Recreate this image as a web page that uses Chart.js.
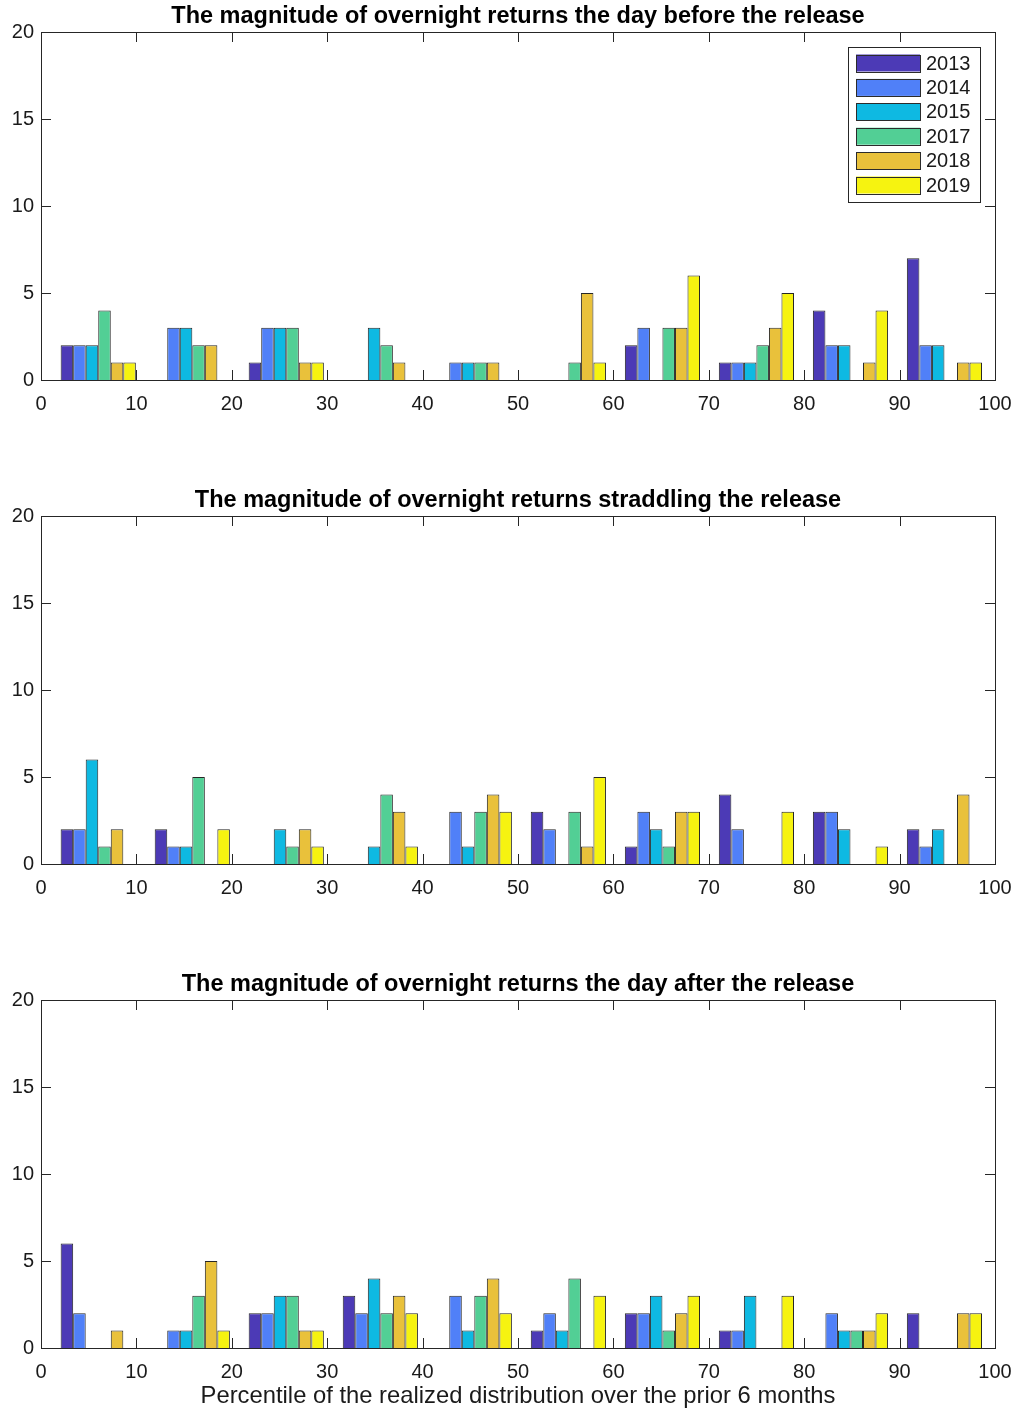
<!DOCTYPE html>
<html>
<head>
<meta charset="utf-8">
<script src="https://cdn.jsdelivr.net/npm/chart.js@4.4.1/dist/chart.umd.min.js"></script>
<style>
  body { margin: 0; background: #fff; width: 1018px; height: 1412px; position: relative; overflow: hidden; }
  .panel { position: absolute; left: 0; width: 1018px; }
</style>
</head>
<body>
<div class="panel" style="top:0px;height:440px"><canvas id="c1"></canvas></div>
<div class="panel" style="top:484px;height:440px"><canvas id="c2"></canvas></div>
<div class="panel" style="top:968px;height:444px"><canvas id="c3"></canvas></div>
<script>
// bin centres of the percentile histogram
const binCenters = [6.0, 15.86, 25.71, 35.57, 45.42, 55.28, 65.14, 74.99, 84.85, 94.7];
const years = ['2013', '2014', '2015', '2017', '2018', '2019'];
const yearColors = ['#4c3ab6', '#5080f8', '#0eb9e2', '#52cf95', '#e9c13b', '#f6f310'];

const titleBefore = 'The magnitude of overnight returns the day before the release';
const titleStraddle = 'The magnitude of overnight returns straddling the release';
const titleAfter = 'The magnitude of overnight returns the day after the release';
const xAxisTitle = 'Percentile of the realized distribution over the prior 6 months';

// counts per bin, one array per year
const before2013 = [2, 0, 1, 0, 0, 0, 2, 1, 4, 7];
const before2014 = [2, 3, 3, 0, 1, 0, 3, 1, 2, 2];
const before2015 = [2, 3, 3, 3, 1, 0, 0, 1, 2, 2];
const before2017 = [4, 2, 3, 2, 1, 1, 3, 2, 0, 0];
const before2018 = [1, 2, 1, 1, 1, 5, 3, 3, 1, 1];
const before2019 = [1, 0, 1, 0, 0, 1, 6, 5, 4, 1];

const straddle2013 = [2, 2, 0, 0, 0, 3, 1, 4, 3, 2];
const straddle2014 = [2, 1, 0, 0, 3, 2, 3, 2, 3, 1];
const straddle2015 = [6, 1, 2, 1, 1, 0, 2, 0, 2, 2];
const straddle2017 = [1, 5, 1, 4, 3, 3, 1, 0, 0, 0];
const straddle2018 = [2, 0, 2, 3, 4, 1, 3, 0, 0, 4];
const straddle2019 = [0, 2, 1, 1, 3, 5, 3, 3, 1, 0];

const after2013 = [6, 0, 2, 3, 0, 1, 2, 1, 0, 2];
const after2014 = [2, 1, 2, 2, 3, 2, 2, 1, 2, 0];
const after2015 = [0, 1, 3, 4, 1, 1, 3, 3, 1, 0];
const after2017 = [0, 3, 3, 2, 3, 4, 1, 0, 1, 0];
const after2018 = [1, 5, 1, 3, 4, 0, 2, 0, 1, 2];
const after2019 = [0, 1, 1, 2, 2, 3, 3, 3, 2, 2];

const xTicks = [0, 10, 20, 30, 40, 50, 60, 70, 80, 90, 100];
const yTicks = [0, 5, 10, 15, 20];

const FONT = '"Liberation Sans", Arial, Helvetica, sans-serif';

function makeDatasets(series) {
    return series.map((vals, i) => ({
        label: years[i],
        data: vals.map((v, j) => ({ x: binCenters[j], y: v })),
        backgroundColor: yearColors[i],
        borderColor: '#262626',
        borderWidth: 1,
        categoryPercentage: 0.8,
        barPercentage: 1.0
    }));
}

// matlab style box with inward ticks on all four sides
const boxPlugin = {
    id: 'boxTicks',
    afterDatasetsDraw(chart) {
        const { ctx, chartArea: a, scales } = chart;
        ctx.save();
        ctx.strokeStyle = '#262626';
        ctx.lineWidth = 1;
        ctx.beginPath();
        xTicks.forEach(t => {
            const px = Math.round(scales.x.getPixelForValue(t)) + 0.5;
            ctx.moveTo(px, a.bottom); ctx.lineTo(px, a.bottom - 10);
            ctx.moveTo(px, a.top); ctx.lineTo(px, a.top + 10);
        });
        yTicks.forEach(t => {
            const py = Math.round(scales.y.getPixelForValue(t)) + 0.5;
            ctx.moveTo(a.left, py); ctx.lineTo(a.left + 10, py);
            ctx.moveTo(a.right, py); ctx.lineTo(a.right - 10, py);
        });
        ctx.stroke();
        ctx.strokeRect(Math.round(a.left) + 0.5, Math.round(a.top) + 0.5,
            Math.round(a.right - a.left), Math.round(a.bottom - a.top));
        ctx.restore();
    }
};

// legend drawn inside the plot, top right corner
const insideLegend = {
    id: 'insideLegend',
    afterDraw(chart, args, opts) {
        if (!opts.show) return;
        const { ctx, chartArea: a } = chart;
        const w = 132, h = 155;
        const left = a.right - 15 - w, top = a.top + 15;
        ctx.save();
        ctx.fillStyle = '#fff';
        ctx.fillRect(left, top, w, h);
        ctx.strokeStyle = '#262626';
        ctx.lineWidth = 1;
        ctx.strokeRect(Math.round(left) + 0.5, Math.round(top) + 0.5, w, h);
        ctx.font = '20px ' + FONT;
        ctx.textBaseline = 'middle';
        chart.data.datasets.forEach((ds, i) => {
            const cy = top + 16 + i * 24.4;
            ctx.fillStyle = ds.backgroundColor;
            ctx.fillRect(left + 8, cy - 8.5, 64, 17);
            ctx.strokeStyle = '#2b2b2b';
            ctx.strokeRect(Math.round(left + 8) + 0.5, Math.round(cy - 8.5) + 0.5, 64, 17);
            ctx.fillStyle = '#1a1a1a';
            ctx.fillText(ds.label, left + 78, cy + 1);
        });
        ctx.restore();
    }
};

function makeChart(id, title, series, opts) {
    const xScale = {
        type: 'linear',
        min: 0, max: 100,
        offset: false,
        grid: { display: false, drawTicks: false, offset: false },
        border: { display: false },
        ticks: {
            stepSize: 10, padding: 12, color: '#1a1a1a', maxRotation: 0,
            font: { family: FONT, size: 20 }
        },
        afterFit(scale) {
            scale.height = opts.bottomH;
            scale.paddingLeft = 0;
            scale.paddingRight = 0;
        }
    };
    if (opts.xTitle) {
        xScale.title = {
            display: true, text: opts.xTitle, color: '#1a1a1a',
            font: { family: FONT, size: 23.8 },
            padding: { top: 0, bottom: 1 }
        };
    }
    return new Chart(document.getElementById(id), {
        type: 'bar',
        data: { datasets: makeDatasets(series) },
        options: {
            responsive: true,
            maintainAspectRatio: false,
            animation: false,
            layout: { padding: { left: 0, right: 23, top: 0, bottom: 0 } },
            scales: {
                x: xScale,
                y: {
                    min: 0, max: 20,
                    grid: { display: false, drawTicks: false },
                    border: { display: false },
                    ticks: {
                        stepSize: 5, padding: 7, color: '#1a1a1a',
                        font: { family: FONT, size: 20 }
                    },
                    afterFit(scale) { scale.width = 41; }
                }
            },
            plugins: {
                legend: { display: false },
                tooltip: { enabled: false },
                title: {
                    display: true, text: title, color: '#000',
                    fullSize: false,
                    font: { family: FONT, size: 23.5, weight: 'bold' },
                    padding: { top: 2, bottom: 1.8 }
                },
                insideLegend: { show: !!opts.legend }
            }
        },
        plugins: [boxPlugin, insideLegend]
    });
}

makeChart('c1', titleBefore,
    [before2013, before2014, before2015, before2017, before2018, before2019],
    { bottomH: 60, legend: true });
makeChart('c2', titleStraddle,
    [straddle2013, straddle2014, straddle2015, straddle2017, straddle2018, straddle2019],
    { bottomH: 60 });
makeChart('c3', titleAfter,
    [after2013, after2014, after2015, after2017, after2018, after2019],
    { bottomH: 64, xTitle: xAxisTitle });
</script>
</body>
</html>
